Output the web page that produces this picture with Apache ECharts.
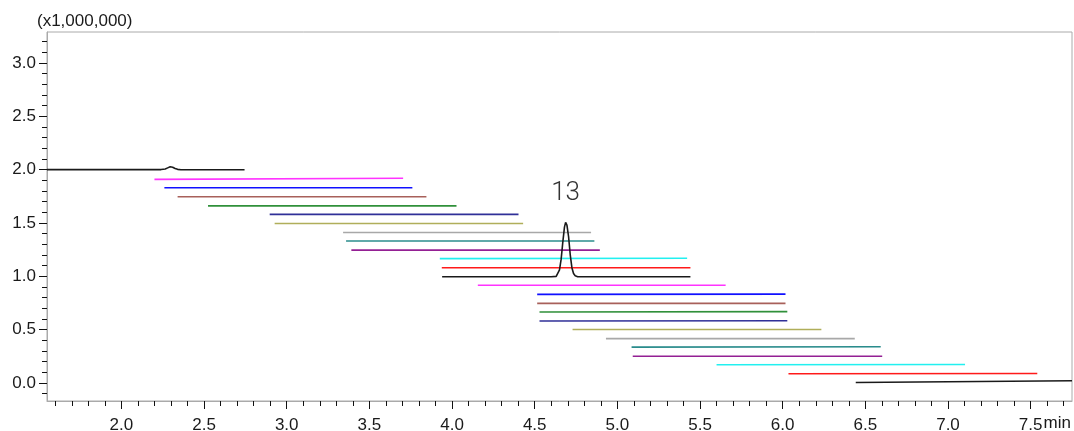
<!DOCTYPE html>
<html><head><meta charset="utf-8">
<script src="https://cdn.jsdelivr.net/npm/echarts@6/dist/echarts.min.js"></script>
<style>html,body{margin:0;padding:0;background:#fff}#c{width:1074px;height:431px}</style>
</head><body><div id="c"></div>
<script>
// ---- data ----
const palette = ['#1a1a1a','#ff33ff','#1010ff','#a8605a','#30903a','#303098','#b0ae5a','#a8a8a8','#2a8c8c','#942094','#22f0f0','#ff1a1a'];
const startTimes = [1.55, 2.20, 2.26, 2.34, 2.524, 2.897, 2.927, 3.341, 3.359, 3.391, 3.926, 3.938, 3.94, 4.156, 4.515, 4.515, 4.529, 4.529, 4.729, 4.931, 5.086, 5.093, 5.60, 6.035, 6.442];
const endTimes   = [2.745, 3.704, 3.760, 3.845, 4.027, 4.402, 4.43, 4.841, 4.861, 4.894, 5.422, 5.442, 5.442, 5.655, 6.017, 6.017, 6.028, 6.028, 6.234, 6.436, 6.593, 6.602, 7.103, 7.54, 7.75];
const startLevels = [2.00, 1.908, 1.83, 1.745, 1.66, 1.58, 1.495, 1.41, 1.33, 1.245, 1.165, 1.08, 0.995, 0.915, 0.83, 0.745, 0.665, 0.58, 0.50, 0.415, 0.335, 0.25, 0.17, 0.085, 0.003];
const endLevels   = [1.998, 1.918, 1.83, 1.745, 1.66, 1.58, 1.495, 1.41, 1.33, 1.245, 1.168, 1.08, 0.995, 0.915, 0.832, 0.745, 0.668, 0.582, 0.50, 0.415, 0.338, 0.25, 0.172, 0.088, 0.02];
const bump1 = [[2.24,2.0],[2.265,2.006],[2.28,2.016],[2.295,2.026],[2.31,2.022],[2.325,2.01],[2.34,2.002],[2.36,1.998]];
const peak13 = [[4.60,0.995],[4.63,0.999],[4.64,1.015],[4.65,1.06],[4.66,1.16],[4.67,1.32],[4.68,1.46],[4.687,1.505],[4.695,1.48],[4.705,1.37],[4.715,1.20],[4.725,1.08],[4.735,1.025],[4.745,1.004],[4.76,0.995]];
const peakLabel = '13';
const peakApex = [4.687, 1.505];
const xMajorTicks = [2.0, 2.5, 3.0, 3.5, 4.0, 4.5, 5.0, 5.5, 6.0, 6.5, 7.0, 7.5];
const yMajorTicks = [0.0, 0.5, 1.0, 1.5, 2.0, 2.5, 3.0];
const xRange = [1.55, 7.75];
const yRange = [-0.17, 3.29];

// minor tick positions (every 0.1)
const xMinorTicks = [];
for (let i = 16; i <= 77; i++) xMinorTicks.push(i / 10);
const yMinorTicks = [];
for (let i = -1; i <= 32; i++) yMinorTicks.push(i / 10);

const extras = {0: bump1, 12: peak13};
const series = startTimes.map((s, i) => {
  let pts = [[s, startLevels[i]]];
  if (extras[i]) pts = pts.concat(extras[i]);
  pts.push([endTimes[i], endLevels[i]]);
  const ser = {
    type: 'line', xAxisIndex: 0, yAxisIndex: 0,
    data: pts, showSymbol: false, symbol: 'none', silent: true,
    lineStyle: {color: palette[i % palette.length], width: 1.6},
    z: 2 + i
  };
  if (i === 12) {
    ser.markPoint = {
      symbol: 'circle', symbolSize: 0, silent: true,
      data: [{coord: peakApex, value: peakLabel}],
      label: {show: true, position: 'top', distance: 16, formatter: peakLabel,
        fontFamily: 'Roboto', fontWeight: 300, fontSize: 26, color: '#333333'}
    };
  }
  return ser;
});

const chart = echarts.init(document.getElementById('c'), null, {renderer: 'canvas'});
const labelFont = {fontFamily: 'Liberation Sans, Arial, sans-serif', fontSize: 17, color: '#1a1a1a'};
chart.setOption({
  animation: false,
  backgroundColor: '#fff',
  grid: {left: 47, right: 2, top: 32, bottom: 30, show: true, borderColor: '#aaaaaa', borderWidth: 1, outerBoundsMode: 'none', containLabel: false},
  xAxis: [{
    type: 'value', min: xRange[0], max: xRange[1], position: 'bottom',
    axisLine: {show: true, onZero: false, lineStyle: {color: '#aaaaaa', width: 1}},
    axisTick: {show: true, customValues: xMajorTicks, length: 8, lineStyle: {color: '#111'}},
    axisLabel: {show: true, customValues: xMajorTicks, margin: 16, formatter: v => v.toFixed(1), ...labelFont},
    splitLine: {show: false}
  }, {
    type: 'value', min: xRange[0], max: xRange[1], position: 'bottom', gridIndex: 0,
    axisLine: {show: false, onZero: false},
    axisTick: {show: true, customValues: xMinorTicks, length: 5, lineStyle: {color: '#111'}},
    axisLabel: {show: false},
    splitLine: {show: false}
  }],
  yAxis: [{
    type: 'value', min: yRange[0], max: yRange[1], position: 'left',
    axisLine: {show: true, onZero: false, lineStyle: {color: '#aaaaaa', width: 1}},
    axisTick: {show: true, customValues: yMajorTicks, length: 8, lineStyle: {color: '#111'}},
    axisLabel: {show: true, customValues: yMajorTicks, margin: 11, formatter: v => v.toFixed(1), ...labelFont},
    splitLine: {show: false}
  }, {
    type: 'value', min: yRange[0], max: yRange[1], position: 'left', gridIndex: 0,
    axisLine: {show: false, onZero: false},
    axisTick: {show: true, customValues: yMinorTicks, length: 5, lineStyle: {color: '#111'}},
    axisLabel: {show: false},
    splitLine: {show: false}
  }],
  graphic: [
    {type: 'text', left: 37, top: 13, silent: true, style: {text: '(x1,000,000)', fill: '#1a1a1a', font: '17px "Liberation Sans", Arial, sans-serif'}},
    {type: 'text', right: 3, top: 415, silent: true, style: {text: 'min', fill: '#1a1a1a', font: '17px "Liberation Sans", Arial, sans-serif'}}
  ],
  series: series
});
</script></body></html>
